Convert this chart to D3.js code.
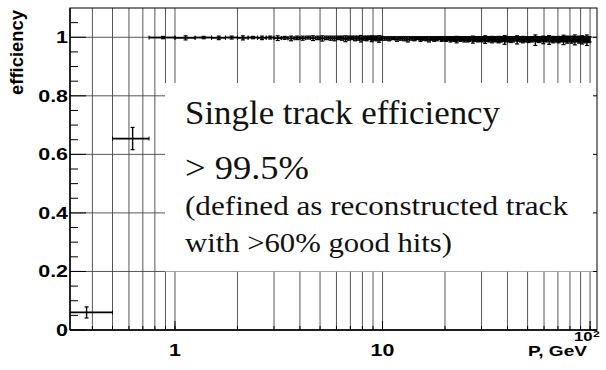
<!DOCTYPE html>
<html><head><meta charset="utf-8">
<script src="https://cdn.jsdelivr.net/npm/d3@7"></script>
<style>body{margin:0;background:#fff}</style>
</head><body><svg id="c" width="606" height="370"></svg>
<script>
// ---- data ----
const binEdges = [0.25,0.5,0.75,1,1.25,1.5,1.75,2,2.25,2.5,2.75,3,3.25,3.5,3.75,4,4.25,4.5,4.75,5,5.25,5.5,5.75,6,6.25,6.5,6.75,7,7.25,7.5,7.75,8,8.25,8.5,8.75,9,9.25,9.5,9.75,10,
10.5,11,11.5,12,12.5,13,13.5,14,14.5,15,15.5,16,16.5,17,17.5,18,18.5,19,19.5,20,
20.5,21,21.5,22,22.5,23,23.5,24,24.5,25,25.5,26,26.5,27,27.5,28,28.5,29,29.5,30,
30.5,31,31.5,32,32.5,33,33.5,34,34.5,35,35.5,36,36.5,37,37.5,38,38.5,39,39.5,40,
41,42,43,44,45,46,47,48,49,50,51,52,53,54,55,56,57,58,59,60,
61,62,63,64,65,66,67,68,69,70,71,72,73,74,75,76,77,78,79,80,
81,82,83,84,85,86,87,88,89,90,91,92,93,94,95,96,97,98,99,100];
const eff = [0.060,0.654,
0.999,0.998,0.999,0.998,0.999,0.998,0.999,0.998,0.999,0.997,
0.998,0.996,0.998,0.997,0.999,0.997,0.998,0.996,0.998,0.997,
0.996,0.998,0.997,0.995,0.997,0.998,0.996,0.997,0.995,0.997,
0.996,0.998,0.995,0.997,0.996,0.994,0.997,
0.996,0.995,0.997,0.994,0.996,0.995,0.993,0.996,0.995,0.997,
0.994,0.996,0.995,0.993,0.996,0.994,0.995,0.997,0.994,0.995,
0.994,0.996,0.993,0.995,0.994,0.992,0.995,0.994,0.996,0.993,
0.995,0.993,0.994,0.996,0.992,0.995,0.994,0.993,0.995,0.994,
0.993,0.995,0.992,0.994,0.995,0.993,0.996,0.992,0.994,0.995,
0.993,0.994,0.992,0.995,0.993,0.994,0.996,0.991,0.994,0.993,
0.994,0.992,0.993,0.995,0.991,0.994,0.993,0.992,0.994,0.993,
0.992,0.994,0.993,0.995,0.990,0.994,0.992,0.993,0.995,0.991,
0.994,0.993,0.995,0.991,0.994,0.993,0.992,0.995,0.993,0.994,
0.992,0.994,0.993,0.995,0.991,0.994,0.993,0.992,0.994,0.993,
0.995,0.992,0.993,0.994,0.991,0.994,0.993,0.995,0.992,0.994,
0.993,0.991,0.994,0.992,0.995,0.993,0.990,0.994,0.992,0.993];
const effErr = [0.019,0.038,
0.004,0.007,0.004,0.006,0.005,0.007,0.004,0.006,0.005,0.008,
0.005,0.008,0.006,0.007,0.005,0.008,0.006,0.009,0.006,0.007,
0.008,0.006,0.007,0.010,0.007,0.006,0.008,0.007,0.011,0.007,
0.008,0.006,0.010,0.007,0.008,0.011,0.007,
0.006,0.007,0.005,0.008,0.006,0.007,0.009,0.006,0.007,0.005,
0.008,0.006,0.007,0.009,0.006,0.008,0.007,0.005,0.008,0.007,
0.008,0.006,0.009,0.007,0.008,0.011,0.007,0.008,0.006,0.009,
0.007,0.009,0.008,0.006,0.012,0.007,0.008,0.009,0.007,0.008,
0.009,0.007,0.013,0.008,0.007,0.009,0.006,0.011,0.008,0.007,
0.009,0.008,0.011,0.007,0.009,0.008,0.006,0.015,0.008,0.009,
0.008,0.010,0.009,0.007,0.014,0.008,0.009,0.011,0.008,0.009,
0.010,0.008,0.009,0.007,0.018,0.008,0.010,0.009,0.007,0.013,
0.008,0.009,0.007,0.015,0.008,0.009,0.011,0.007,0.009,0.008,
0.011,0.008,0.009,0.007,0.016,0.008,0.009,0.012,0.008,0.009,
0.007,0.012,0.009,0.008,0.017,0.008,0.009,0.007,0.012,0.008,
0.009,0.014,0.008,0.011,0.007,0.009,0.018,0.008,0.010,0.009];
const xGridValues = [0.4,0.5,0.6,0.7,0.8,0.9,1,2,3,4,5,6,7,8,9,10,20,30,40,50,60,70,80,90,100];
const xMajorValues = [1,10,100];
const xTickLabels = ["1","10"];
const yGridValues = [0.2,0.4,0.6,0.8,1];
const yTickValues = [0,0.2,0.4,0.6,0.8,1];
const yTickLabels = ["0","0.2","0.4","0.6","0.8","1"];
const yMinorValues = [0.05,0.1,0.15,0.25,0.3,0.35,0.45,0.5,0.55,0.65,0.7,0.75,0.85,0.9,0.95,1.05];
const boxLines = ["Single track efficiency","> 99.5%","(defined as reconstructed track","with >60% good hits)"];

// ---- layout ----
const L=70,R=597,T=8,B=330;
const x = d3.scaleLog().domain([0.312,108]).range([L,R]);
const y = d3.scaleLinear().domain([0,1.1]).range([B,T]);
const svg = d3.select("#c");
const sans = "'Liberation Sans', Arial, Helvetica, sans-serif";
const serif = "'Liberation Serif', 'Times New Roman', serif";

// grid
const grid = svg.append("g").attr("stroke","#444").attr("stroke-width",0.9);
grid.selectAll("line.v").data(xGridValues).join("line")
  .attr("x1",d=>x(d)).attr("x2",d=>x(d)).attr("y1",T).attr("y2",B);
grid.selectAll("line.h").data(yGridValues).join("line")
  .attr("x1",L).attr("x2",R).attr("y1",d=>y(d)).attr("y2",d=>y(d));

// data
const bins = eff.map((e,i)=>({lo:binEdges[i],hi:binEdges[i+1],c:(binEdges[i]+binEdges[i+1])/2,e:e,err:effErr[i]}));
const dg = svg.append("g").attr("stroke","#000").attr("stroke-width",1).attr("fill","none");
bins.forEach(b=>{
  const xl=Math.max(x(b.lo),L), xr=x(b.hi), xc=x(b.c), yc=y(b.e), y1=y(b.e-b.err), y2=y(b.e+b.err);
  dg.append("line").attr("x1",xl).attr("x2",xr).attr("y1",yc).attr("y2",yc).attr("stroke-width",1.8);
  if (x(b.lo)>L) dg.append("line").attr("x1",xl).attr("x2",xl).attr("y1",yc-2).attr("y2",yc+2);
  dg.append("line").attr("x1",xr).attr("x2",xr).attr("y1",yc-2).attr("y2",yc+2);
  dg.append("line").attr("x1",xc).attr("x2",xc).attr("y1",y1).attr("y2",y2).attr("stroke-width",1.4);
  dg.append("line").attr("x1",xc-2).attr("x2",xc+2).attr("y1",y1).attr("y2",y1).attr("stroke-width",1.2);
  dg.append("line").attr("x1",xc-2).attr("x2",xc+2).attr("y1",y2).attr("y2",y2).attr("stroke-width",1.2);
});

// text box
svg.append("rect").attr("x",165).attr("y",83).attr("width",R-165).attr("height",y(0.2)-83).attr("fill","#fff");
const boxSpec = [{b:124,s:33,w:315},{b:179,s:33,w:124},{b:215,s:27,w:383},{b:252,s:27,w:267}];
boxLines.forEach((t,i)=>{
  svg.append("text").attr("x",185).attr("y",boxSpec[i].b).attr("font-family",serif)
    .attr("font-size",boxSpec[i].s).attr("textLength",boxSpec[i].w).attr("lengthAdjust","spacingAndGlyphs")
    .attr("fill","#111").text(t);
});

// frame
svg.append("rect").attr("x",L).attr("y",T).attr("width",R-L).attr("height",B-T)
  .attr("fill","none").attr("stroke","#000").attr("stroke-width",1);
svg.append("line").attr("x1",L).attr("x2",R).attr("y1",B).attr("y2",B).attr("stroke","#000").attr("stroke-width",1.6);
svg.append("line").attr("x1",L).attr("x2",L).attr("y1",T).attr("y2",B).attr("stroke","#000").attr("stroke-width",1.4);

// axis ticks
const tk = svg.append("g").attr("stroke","#000").attr("stroke-width",1);
tk.selectAll("line.ym").data(yMinorValues).join("line").attr("x1",L).attr("x2",L+8).attr("y1",d=>y(d)).attr("y2",d=>y(d));
tk.selectAll("line.yM").data(yTickValues).join("line").attr("x1",L).attr("x2",L+16).attr("y1",d=>y(d)).attr("y2",d=>y(d));
tk.selectAll("line.yr").data(yTickValues).join("line").attr("x1",R-4).attr("x2",R).attr("y1",d=>y(d)).attr("y2",d=>y(d));
tk.selectAll("line.xm").data(xGridValues).join("line").attr("x1",d=>x(d)).attr("x2",d=>x(d)).attr("y1",B).attr("y2",B-4);
tk.selectAll("line.xM").data(xMajorValues).join("line").attr("x1",d=>x(d)).attr("x2",d=>x(d)).attr("y1",B).attr("y2",B-9);

// y labels
yTickValues.forEach((v,i)=>{
  svg.append("text").attr("transform",`translate(68,${y(v)+6}) scale(1.26,1)`)
    .attr("text-anchor","end").attr("font-family",sans).attr("font-weight","bold").attr("font-size",17)
    .attr("fill","#000").text(yTickLabels[i]);
});
// x labels
xTickLabels.forEach((t,i)=>{
  svg.append("text").attr("transform",`translate(${x(xMajorValues[i])},355.5) scale(1.26,1)`)
    .attr("text-anchor","middle").attr("font-family",sans).attr("font-weight","bold").attr("font-size",17)
    .attr("fill","#000").text(t);
});
svg.append("text").attr("transform",`translate(574,341) scale(1.28,1)`)
  .attr("font-family",sans).attr("font-weight","bold").attr("font-size",13).text("10");
svg.append("text").attr("transform",`translate(593,336.5) scale(1.28,1)`)
  .attr("font-family",sans).attr("font-weight","bold").attr("font-size",9.5).text("2");
// axis titles
svg.append("text").attr("x",528).attr("y",356).attr("font-family",sans).attr("font-weight","bold")
  .attr("font-size",15).attr("textLength",59).attr("lengthAdjust","spacingAndGlyphs").text("P, GeV");
svg.append("text").attr("transform","translate(23,10) rotate(-90)").attr("text-anchor","end")
  .attr("font-family",sans).attr("font-weight","bold").attr("font-size",18.5)
  .attr("textLength",85).attr("lengthAdjust","spacingAndGlyphs").text("efficiency");
</script></body></html>
